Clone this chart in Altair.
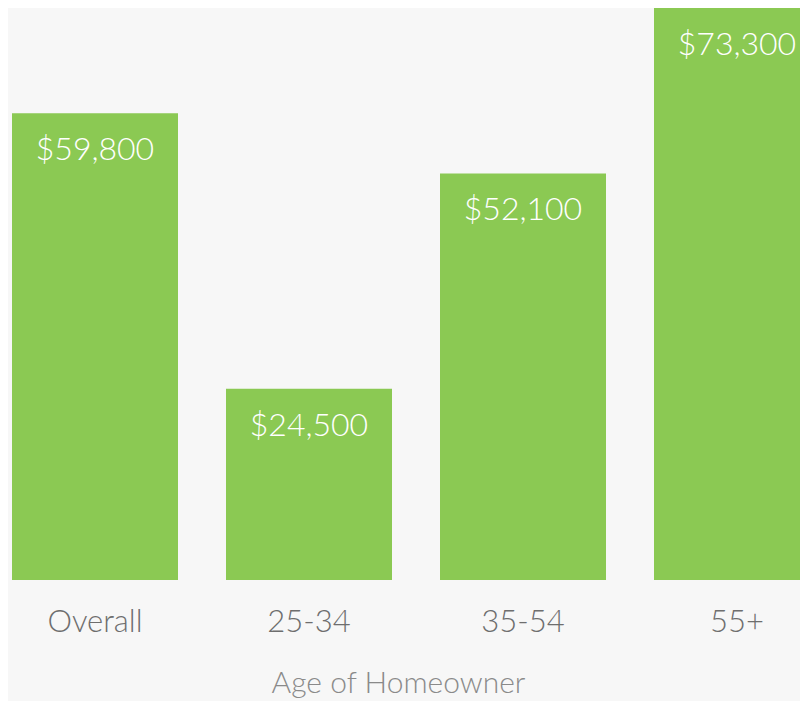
import altair as alt
import pandas as pd

categories = ["Overall", "25-34", "35-54", "55+"]
values = [59800, 24500, 52100, 73300]

df = pd.DataFrame({"age": categories, "value": values})

FONT = "Lato"

x = alt.X(
    "age:N",
    sort=categories,
    title="Age of Homeowner",
    scale=alt.Scale(range=[4, 812], paddingInner=48 / 214, paddingOuter=0),
    axis=alt.Axis(
        domain=False,
        ticks=False,
        labelAngle=0,
        labelFont=FONT,
        labelFontSize=31,
        labelFontWeight=300,
        labelColor="#6e6e6e",
        labelPadding=27,
        titleFont=FONT,
        titleFontSize=30,
        titleFontWeight=300,
        titleColor="#8a8a8a",
        titlePadding=31,
        titleX=390,
        titleAnchor="middle",
    ),
)
y = alt.Y("value:Q", scale=alt.Scale(domain=[0, 73300], nice=False), axis=None)

bars = alt.Chart(df).mark_bar(color="#8bc953", clip=True).encode(x=x, y=y)
labels = alt.Chart(df).mark_text(
    color="white", font=FONT, fontSize=32, fontWeight=300,
    baseline="alphabetic", dy=47, clip=True
).encode(x=x, y=y, text=alt.Text("value:Q", format="$,.0f"))

chart = (bars + labels).properties(
    width=792, height=572,
    padding={"left": 0, "top": 0, "right": 0, "bottom": 121},
    autosize=alt.AutoSizeParams(type="none"),
    background="#f7f7f7",
).configure_view(stroke=None).configure_axis(grid=False)

chart.save("out.html", embed_options={"renderer": "svg", "actions": False})
